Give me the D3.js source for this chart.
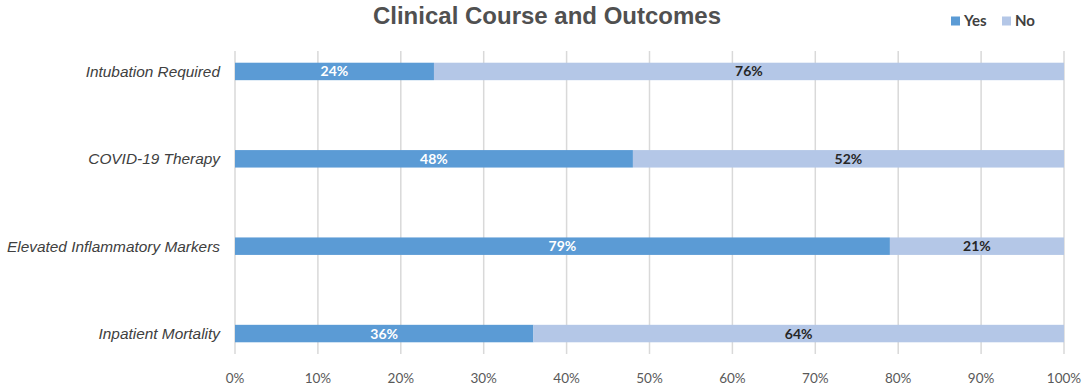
<!DOCTYPE html>
<html>
<head>
<meta charset="utf-8">
<style>
  body { margin: 0; background: #fff; }
  svg { display: block; }
</style>
<script src="https://cdn.jsdelivr.net/npm/d3@7"></script>
</head>
<body>
<div id="chart"></div>
<script>
// chart data
var categories = ["Intubation Required", "COVID-19 Therapy", "Elevated Inflammatory Markers", "Inpatient Mortality"];
var yesValues = [0.24, 0.48, 0.79, 0.36];
var noValues  = [0.76, 0.52, 0.21, 0.64];
var seriesNames = ["Yes", "No"];
var tickValues = [0, 0.1, 0.2, 0.3, 0.4, 0.5, 0.6, 0.7, 0.8, 0.9, 1.0];

var colors = { Yes: "#5b9bd5", No: "#b4c7e7" };
var W = 1084, H = 389;
var plot = { left: 235, right: 1064, top: 51, bottom: 354 };

var svg = d3.select("#chart").append("svg")
    .attr("width", W)
    .attr("height", H);

var x = d3.scaleLinear().domain([0, 1]).range([plot.left, plot.right]);
var y = d3.scaleBand()
    .domain(categories)
    .range([plot.top, plot.bottom])
    .paddingInner(0.8)
    .paddingOuter(0.134);

// gridlines
svg.append("g").selectAll("line")
    .data(tickValues).enter().append("line")
    .attr("x1", d => x(d)).attr("x2", d => x(d))
    .attr("y1", plot.top).attr("y2", plot.bottom)
    .style("stroke", "#d9d9d9").style("stroke-width", 1.5);

// tick labels
svg.append("g").selectAll("text")
    .data(tickValues).enter().append("text")
    .attr("x", d => x(d))
    .attr("y", 378)
    .attr("dy", "0.35em")
    .attr("text-anchor", "middle")
    .style("font-family", "Lato, sans-serif")
    .style("font-size", "13.5px")
    .style("fill", "#595959")
    .text(d3.format(".0%"));

// category labels
svg.append("g").selectAll("text")
    .data(categories).enter().append("text")
    .attr("x", 220)
    .attr("y", d => y(d) + y.bandwidth() / 2)
    .attr("dy", "0.35em")
    .attr("text-anchor", "end")
    .style("font-family", "'Liberation Sans', Arial, sans-serif")
    .style("font-style", "italic")
    .style("font-size", "15.4px")
    .style("fill", "#404040")
    .text(d => d);

// stacked bars
var rows = categories.map((c, i) => ({ cat: c, Yes: yesValues[i], No: noValues[i] }));
var stack = d3.stack().keys(seriesNames)(rows);

var layers = svg.append("g").selectAll("g")
    .data(stack).enter().append("g")
    .style("fill", d => colors[d.key]);

layers.selectAll("rect")
    .data(d => d).enter().append("rect")
    .attr("x", d => x(d[0]))
    .attr("width", d => x(d[1]) - x(d[0]))
    .attr("y", d => y(d.data.cat))
    .attr("height", y.bandwidth());

layers.selectAll("text")
    .data(d => d.map(v => ({ key: d.key, v: v }))).enter().append("text")
    .attr("x", d => (x(d.v[0]) + x(d.v[1])) / 2)
    .attr("y", d => y(d.v.data.cat) + y.bandwidth() / 2)
    .attr("dy", "0.36em")
    .attr("text-anchor", "middle")
    .style("font-family", "Lato, sans-serif")
    .style("font-weight", "bold")
    .style("font-size", "14px")
    .style("fill", d => d.key == "Yes" ? "#ffffff" : "#262626")
    .text(d => d3.format(".0%")(d.v[1] - d.v[0]));

// title
svg.append("text")
    .attr("x", 547)
    .attr("y", 24)
    .attr("text-anchor", "middle")
    .style("font-family", "'Liberation Sans', Arial, sans-serif")
    .style("font-weight", "bold")
    .style("font-size", "24px")
    .style("fill", "#505050")
    .text("Clinical Course and Outcomes");

// legend
var legendX = [951, 1002];
var legend = svg.append("g").selectAll("g")
    .data(seriesNames).enter().append("g")
    .attr("transform", (d, i) => `translate(${legendX[i]},21)`);
legend.append("rect")
    .attr("x", 0).attr("y", -4.5)
    .attr("width", 9).attr("height", 9)
    .style("fill", d => colors[d]);
legend.append("text")
    .attr("x", 13)
    .attr("dy", "0.36em")
    .style("font-family", "Lato, sans-serif")
    .style("font-weight", "bold")
    .style("font-size", "15px")
    .style("fill", "#404040")
    .text(d => d);
</script>
</body>
</html>
